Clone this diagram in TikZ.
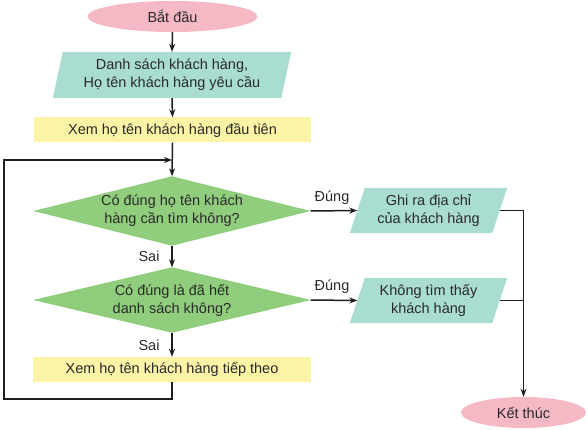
\documentclass[tikz,border=0pt]{standalone}
\usepackage{fontspec}
\setmainfont{Liberation Sans}
\usetikzlibrary{shapes.geometric,arrows.meta,backgrounds}
\definecolor{pinkc}{HTML}{F5B9C5}
\definecolor{tealc}{HTML}{A9DDD1}
\definecolor{yelc}{HTML}{FBF3A6}
\definecolor{greenc}{HTML}{90CD7C}
\definecolor{txtc}{HTML}{2A2A2A}
\definecolor{linec}{HTML}{1E1E1E}
\begin{document}
\begin{tikzpicture}[x=1pt,y=-1pt,
  font=\fontsize{14.5}{18}\selectfont,
  every node/.style={text=txtc},
  term/.style={ellipse, fill=pinkc, inner sep=0pt},
  ybox/.style={rectangle, fill=yelc, inner sep=0pt},
  ghost/.style={rectangle, inner sep=0pt, align=center},
  arr/.style={draw=linec, line width=1.5pt, -{Stealth[length=8pt,width=6pt]}},
  ln/.style={draw=linec, line width=1.5pt}]
\useasboundingbox (0,0) rectangle (588,430);

% nodes
\node[term, minimum width=170, minimum height=31] (start) at (172.5,16.5) {Bắt đầu};
\node[ghost, minimum width=228, minimum height=46] (in) at (172,75) {Danh sách khách hàng,\\Họ tên khách hàng yêu cầu};
\node[ybox, minimum width=277, minimum height=25] (b1) at (172.5,130) {Xem họ tên khách hàng đầu tiên};
\node[ghost, minimum width=277, minimum height=69] (d1) at (172,211) {Có đúng họ tên khách\\hàng cần tìm không?};
\node[ghost, minimum width=277, minimum height=65] (d2) at (172,300) {Có đúng là đã hết\\danh sách không?};
\node[ybox, minimum width=278, minimum height=25] (b2) at (172,369.5) {Xem họ tên khách hàng tiếp theo};
\node[ghost, minimum width=142, minimum height=45] (p1) at (428.5,210.5) {Ghi ra địa chỉ\\của khách hàng};
\node[ghost, minimum width=142, minimum height=45] (p2) at (428.5,300.5) {Không tìm thấy\\khách hàng};
\node[term, minimum width=125, minimum height=31] (end) at (523.5,412.5) {Kết thúc};

\node (sai1) at (149,256) {Sai};
\node (sai2) at (149,345) {Sai};
\node (dung1) at (332,198) {Đúng};
\node (dung2) at (332,287) {Đúng};

\coordinate (join) at (172,160);
\coordinate (loopL) at (4,399);

% shapes on background
\begin{scope}[on background layer]
  \fill[tealc] ([xshift=5]in.north west) -- ([xshift=5]in.north east)
     -- ([xshift=-5]in.south east) -- ([xshift=-5]in.south west) -- cycle;
  \fill[tealc] ([xshift=7.5]p1.north west) -- ([xshift=7.5]p1.north east)
     -- ([xshift=-7.5]p1.south east) -- ([xshift=-7.5]p1.south west) -- cycle;
  \fill[tealc] ([xshift=7.5]p2.north west) -- ([xshift=7.5]p2.north east)
     -- ([xshift=-7.5]p2.south east) -- ([xshift=-7.5]p2.south west) -- cycle;
  \fill[greenc] (d1.north) -- (d1.east) -- (d1.south) -- (d1.west) -- cycle;
  \fill[greenc] (d2.north) -- (d2.east) -- (d2.south) -- (d2.west) -- cycle;
\end{scope}

% connectors
\draw[arr] (start.south) -- (in.north);
\draw[arr] (in.south) -- (b1.north);
\draw[arr] (b1.south) -- (d1.north);
\draw[arr] (b2.south) |- (loopL) |- (join);
\draw[arr] (d1.south) -- (d2.north);
\draw[arr] (d2.south) -- (b2.north);
\draw[arr] (d1.east) -- (p1.west);
\draw[arr] (d2.east) -- (p2.west);
\draw[arr] (p1.east) -| (end.north);
\draw[ln] (p2.east) -- (p2.east -| end.north);
\end{tikzpicture}
\end{document}
